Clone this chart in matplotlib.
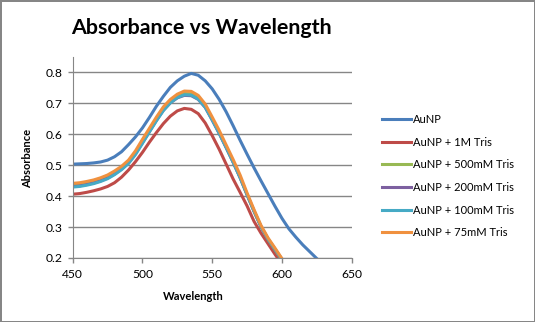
import matplotlib.pyplot as plt
from matplotlib.lines import Line2D

plt.rcParams['font.family'] = ['Lato', 'DejaVu Sans']

# wavelength grid (nm) and absorbance readings per sample
wavelength = [450, 455, 460, 465, 470, 475, 480, 485, 490, 495,
              500, 505, 510, 515, 520, 525, 530, 535, 540, 545,
              550, 555, 560, 565, 570, 575, 580, 585, 590, 595,
              600, 605, 610, 615, 620, 625, 630]

aunp = [0.503, 0.504, 0.505, 0.507, 0.510, 0.516, 0.527, 0.543, 0.566, 0.591,
        0.620, 0.654, 0.690, 0.722, 0.751, 0.772, 0.787, 0.796, 0.790, 0.772,
        0.746, 0.712, 0.672, 0.627, 0.580, 0.535, 0.491, 0.449, 0.408, 0.367,
        0.328, 0.294, 0.267, 0.242, 0.220, 0.198, 0.178]

tris_1m = [0.406, 0.408, 0.412, 0.417, 0.423, 0.431, 0.443, 0.461, 0.484, 0.511,
           0.541, 0.574, 0.605, 0.634, 0.658, 0.675, 0.683, 0.680, 0.666, 0.636,
           0.595, 0.551, 0.503, 0.455, 0.412, 0.368, 0.318, 0.280, 0.246, 0.212,
           0.180, 0.150, 0.130, 0.110, 0.090, 0.070, 0.050]

tris_500mm = [0.434, 0.436, 0.440, 0.445, 0.452, 0.461, 0.474, 0.490, 0.510, 0.539,
              0.575, 0.611, 0.647, 0.680, 0.705, 0.722, 0.731, 0.730, 0.717, 0.690,
              0.649, 0.605, 0.558, 0.510, 0.460, 0.404, 0.350, 0.300, 0.260, 0.226,
              0.193, 0.160, 0.140, 0.120, 0.100, 0.080, 0.060]

tris_200mm = [0.431, 0.433, 0.437, 0.442, 0.449, 0.458, 0.471, 0.487, 0.507, 0.536,
              0.572, 0.608, 0.644, 0.677, 0.701, 0.717, 0.725, 0.724, 0.712, 0.686,
              0.645, 0.602, 0.556, 0.509, 0.459, 0.404, 0.351, 0.301, 0.261, 0.228,
              0.195, 0.162, 0.142, 0.122, 0.102, 0.082, 0.062]

tris_100mm = [0.429, 0.431, 0.435, 0.440, 0.447, 0.456, 0.469, 0.485, 0.505, 0.534,
              0.570, 0.607, 0.643, 0.676, 0.701, 0.718, 0.727, 0.726, 0.713, 0.687,
              0.646, 0.603, 0.557, 0.510, 0.460, 0.405, 0.352, 0.302, 0.262, 0.229,
              0.196, 0.163, 0.143, 0.123, 0.103, 0.083, 0.063]

tris_75mm = [0.441, 0.443, 0.447, 0.452, 0.459, 0.468, 0.481, 0.496, 0.516, 0.546,
             0.583, 0.619, 0.655, 0.688, 0.712, 0.729, 0.739, 0.738, 0.725, 0.697,
             0.655, 0.612, 0.565, 0.518, 0.468, 0.410, 0.356, 0.305, 0.265, 0.232,
             0.198, 0.165, 0.145, 0.125, 0.105, 0.085, 0.065]

labels = ["AuNP", "AuNP + 1M Tris", "AuNP + 500mM Tris",
          "AuNP + 200mM Tris", "AuNP + 100mM Tris", "AuNP + 75mM Tris"]
series = [aunp, tris_1m, tris_500mm, tris_200mm, tris_100mm, tris_75mm]
colors = ["#4A7EBB", "#BE4B48", "#98B954", "#7D60A0", "#46AAC5", "#F0913F"]

x_ticks = [450, 500, 550, 600, 650]
y_ticks = [0.2, 0.3, 0.4, 0.5, 0.6, 0.7, 0.8]

grey = "#868686"

fig = plt.figure(figsize=(5.35, 3.22), dpi=100)
fig.patch.set_edgecolor(grey)
fig.patch.set_linewidth(2)

ax = fig.add_axes([0.1359, 0.1988, 0.5215, 0.6242])
for vals, col in zip(series, colors):
    ax.plot(wavelength, vals, color=col, lw=2.2, solid_capstyle="butt")

ax.set_xlim(450, 650)
ax.set_ylim(0.2, 0.849)
ax.set_xticks(x_ticks)
ax.set_yticks(y_ticks)
ax.set_yticklabels([f"{v:.1f}" for v in y_ticks])
ax.yaxis.grid(True, color=grey, lw=1)
ax.set_axisbelow(True)
for side in ["top", "right"]:
    ax.spines[side].set_visible(False)
for side in ["left", "bottom"]:
    ax.spines[side].set_color(grey)
ax.tick_params(colors=grey, labelcolor="black", labelsize=8.7, length=3.6, width=1)
ax.tick_params(axis="x", pad=4)

fig.text(201 / 535, 1 - 28 / 322, "Absorbance vs Wavelength",
         ha="center", va="center", fontsize=15.4, fontweight="bold")
fig.text(28 / 535, 1 - 158 / 322, "Absorbance", rotation=90,
         ha="center", va="center", fontsize=8, fontweight="bold")
fig.text(193 / 535, 1 - 297 / 322, "Wavelength",
         ha="center", va="center", fontsize=8, fontweight="bold")

handles = [Line2D([], [], color=c, lw=2.2) for c in colors]
fig.legend(handles, labels, loc="upper left", bbox_to_anchor=(382 / 535, 1 - 114 / 322),
           frameon=False, fontsize=8, borderpad=0, borderaxespad=0,
           handlelength=2.6, handletextpad=0.15, labelspacing=1.05)

fig.savefig("out.png", dpi=100)
